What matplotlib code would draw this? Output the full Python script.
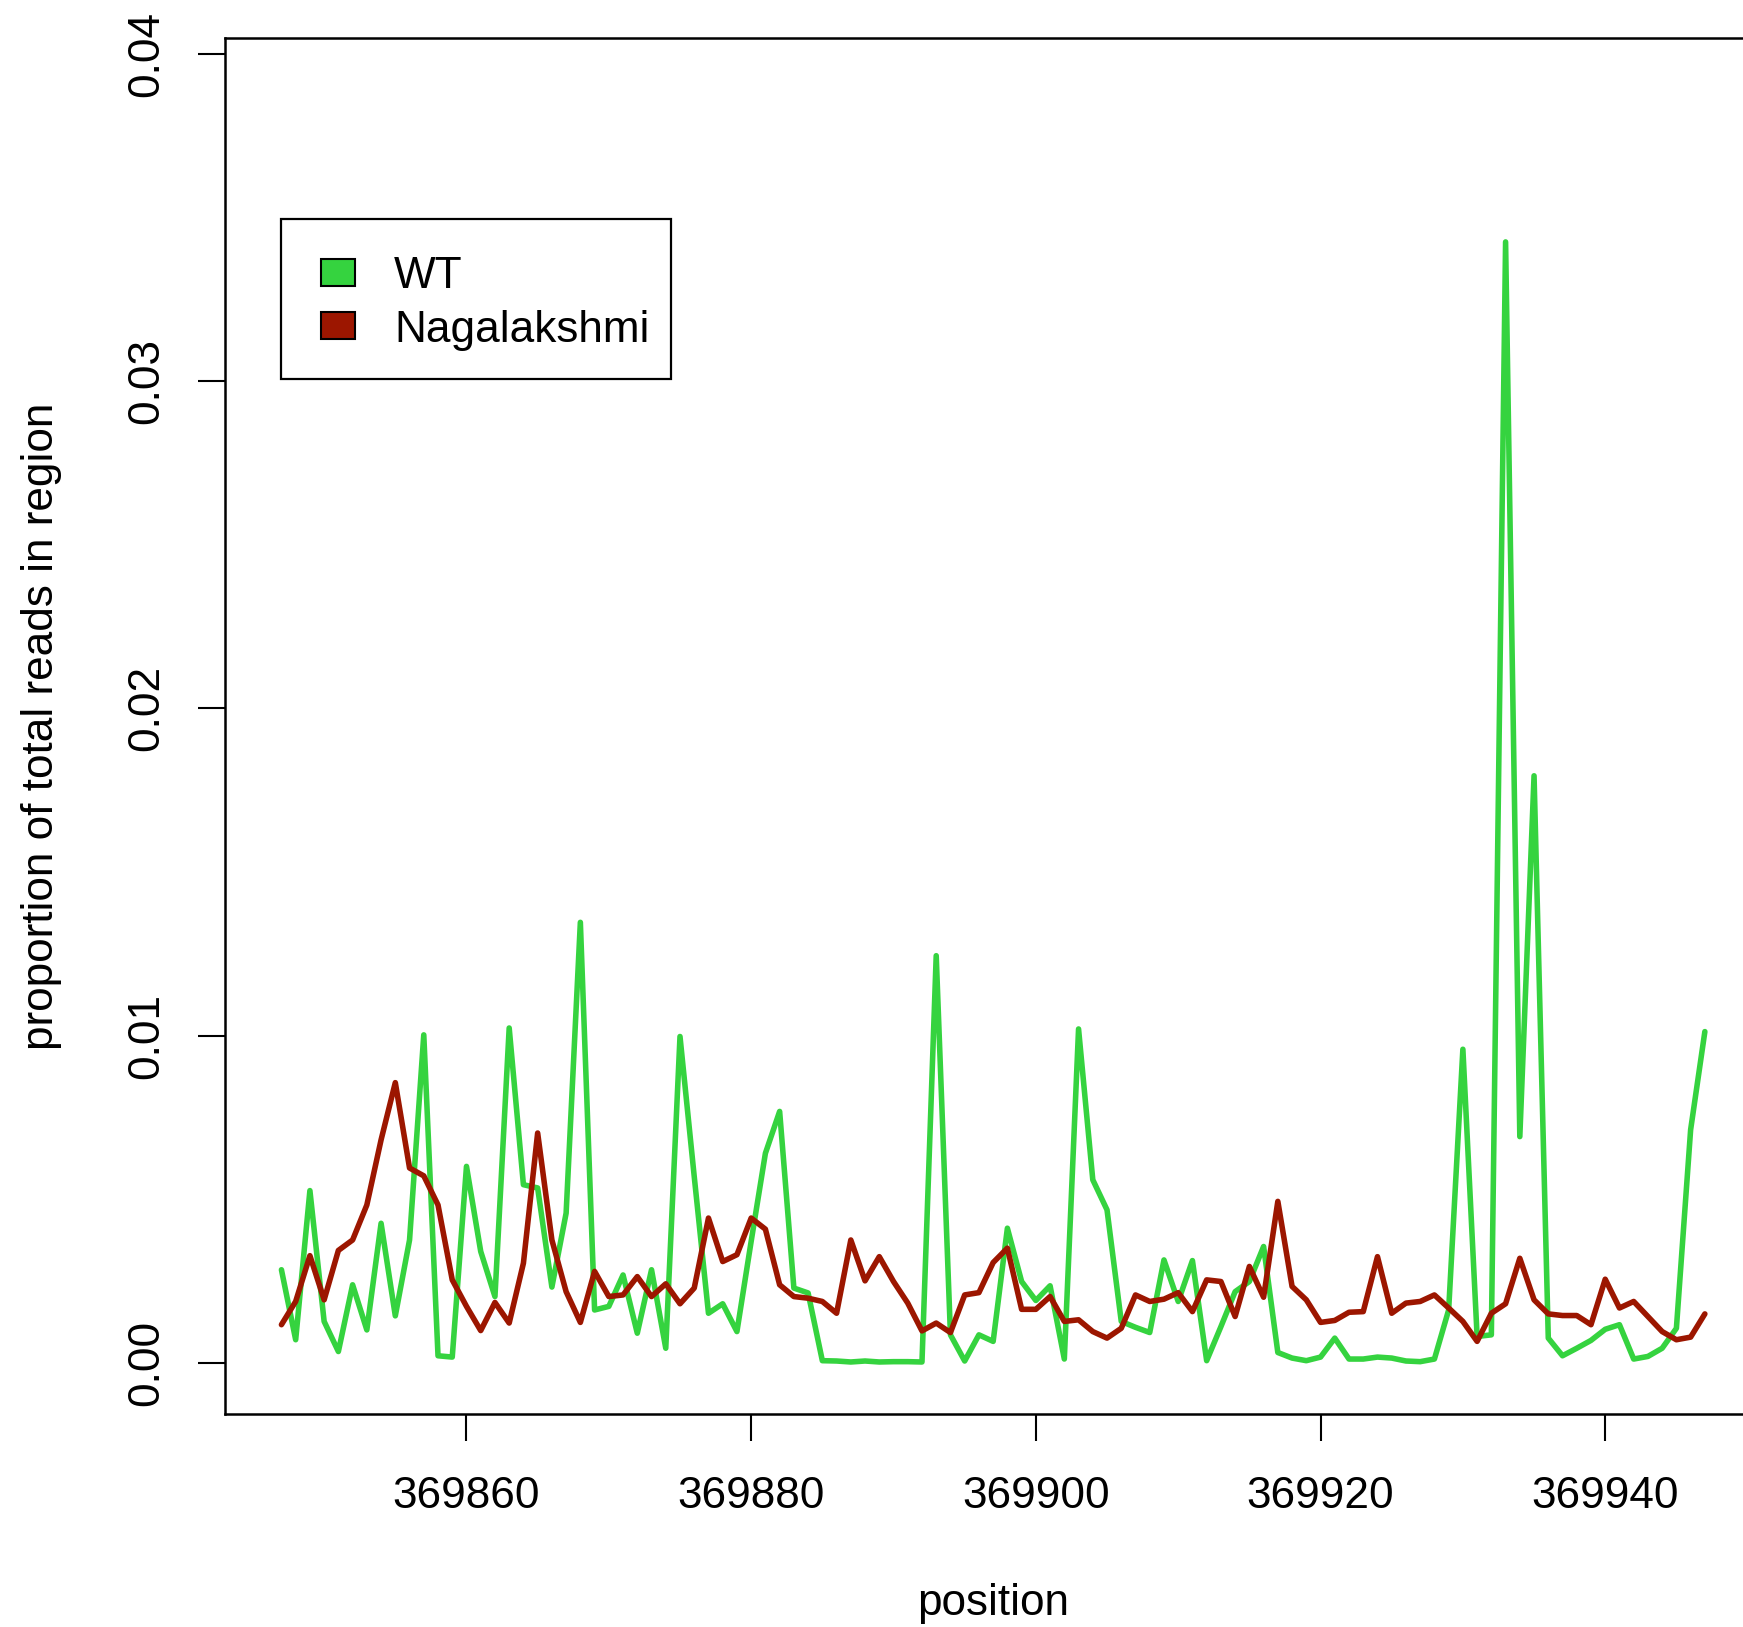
import matplotlib
matplotlib.use("Agg")
import matplotlib.pyplot as plt
from matplotlib.patches import Rectangle

plt.rcParams['font.family'] = ['Liberation Sans', 'DejaVu Sans']

# genomic positions covered by the region
positions = list(range(369847, 369948))

wt = [
    0.00284, 0.00070, 0.00526, 0.00126, 0.00034, 0.00238, 0.00100, 0.00426, 0.00143, 0.00375,
    0.01002, 0.00021, 0.00017, 0.00600, 0.00340, 0.00202, 0.01023, 0.00544, 0.00534, 0.00231,
    0.00457, 0.01346, 0.00161, 0.00172, 0.00268, 0.00090, 0.00284, 0.00044, 0.00997, 0.00569,
    0.00151, 0.00180, 0.00095, 0.00371, 0.00640, 0.00768, 0.00228, 0.00213, 0.00006, 0.00005,
    0.00002, 0.00005, 0.00002, 0.00003, 0.00003, 0.00002, 0.01244, 0.00085, 0.00005, 0.00085,
    0.00065, 0.00411, 0.00248, 0.00190, 0.00235, 0.00011, 0.01020, 0.00559, 0.00467, 0.00126,
    0.00108, 0.00092, 0.00314, 0.00187, 0.00312, 0.00006, 0.00110, 0.00217, 0.00248, 0.00355,
    0.00031, 0.00014, 0.00006, 0.00017, 0.00075, 0.00011, 0.00011, 0.00017, 0.00014, 0.00005,
    0.00003, 0.00011, 0.00161, 0.00958, 0.00080, 0.00085, 0.03426, 0.00691, 0.01794, 0.00075,
    0.00021, 0.00044, 0.00068, 0.00102, 0.00116, 0.00011, 0.00019, 0.00044, 0.00105, 0.00712,
    0.01012,
]

nagalakshmi = [
    0.00116, 0.00187, 0.00327, 0.00192, 0.00343, 0.00375, 0.00482, 0.00681, 0.00856, 0.00595,
    0.00571, 0.00482, 0.00253, 0.00172, 0.00098, 0.00184, 0.00121, 0.00304, 0.00702, 0.00375,
    0.00217, 0.00123, 0.00279, 0.00202, 0.00207, 0.00263, 0.00202, 0.00241, 0.00180, 0.00228,
    0.00442, 0.00309, 0.00330, 0.00442, 0.00408, 0.00238, 0.00202, 0.00197, 0.00187, 0.00151,
    0.00375, 0.00250, 0.00324, 0.00248, 0.00182, 0.00097, 0.00121, 0.00092, 0.00207, 0.00214,
    0.00306, 0.00350, 0.00163, 0.00163, 0.00202, 0.00126, 0.00131, 0.00095, 0.00075, 0.00105,
    0.00207, 0.00187, 0.00194, 0.00214, 0.00156, 0.00253, 0.00248, 0.00141, 0.00294, 0.00200,
    0.00493, 0.00233, 0.00192, 0.00123, 0.00129, 0.00154, 0.00156, 0.00324, 0.00151, 0.00182,
    0.00187, 0.00207, 0.00167, 0.00126, 0.00065, 0.00151, 0.00180, 0.00319, 0.00192, 0.00149,
    0.00144, 0.00144, 0.00116, 0.00255, 0.00167, 0.00187, 0.00141, 0.00095, 0.00070, 0.00078,
    0.00149,
]

series_names = ["WT", "Nagalakshmi"]
series_colors = ["#35D33F", "#9C1600"]

x_ticks = [369860, 369880, 369900, 369920, 369940]
y_ticks = [0.00, 0.01, 0.02, 0.03, 0.04]
y_tick_labels = ["0.00", "0.01", "0.02", "0.03", "0.04"]

W, H = 1743, 1627
FS = 31.8
fig = plt.figure(figsize=(W / 100, H / 100), dpi=100)
ax = fig.add_axes([224.5 / W, 1 - 1414 / H, 1537.3 / W, 1376.2 / H])

line_kw = dict(lw=4.0, solid_joinstyle='round', solid_capstyle='round')
ax.plot(positions, wt, color=series_colors[0], zorder=2, **line_kw)
ax.plot(positions, nagalakshmi, color=series_colors[1], zorder=3, **line_kw)

ax.set_xlim(369843, 369951)
ax.set_ylim(-0.00157, 0.0405)

ax.set_xticks(x_ticks)
ax.set_xticklabels([str(t) for t in x_ticks])
ax.set_yticks(y_ticks)
ax.set_yticklabels(y_tick_labels, rotation=90, va='center')

for s in ax.spines.values():
    s.set_linewidth(1.8)
    s.set_color('black')

ax.tick_params(axis='both', direction='out', length=19.4, width=1.5, labelsize=FS, color='black')
ax.tick_params(axis='x', pad=25)
ax.tick_params(axis='y', pad=21.5)

ax.set_xlabel("position", fontsize=FS, va='center')
ax.xaxis.set_label_coords(0.5, (1414 - 1603) / 1376.2)
ax.set_ylabel("proportion of total reads in region", fontsize=FS, va='center')
ax.yaxis.set_label_coords((42 - 224.5) / 1537.3, 0.5)


# legend box in the upper-left corner, laid out in figure pixels
def fx(px):
    return px / W


def fy(py):
    return 1 - py / H


fig.patches.append(Rectangle((fx(281.2), fy(379)), fx(671.4) - fx(281.2), fy(219) - fy(379),
                             transform=fig.transFigure, facecolor='white',
                             edgecolor='black', linewidth=1.6, zorder=5))
row_centers = [272.5, 325.8]
for name, color, yc in zip(series_names, series_colors, row_centers):
    fig.patches.append(Rectangle((fx(321.3), fy(yc + 13.5)), fx(354.6) - fx(321.3), 27 / H,
                                 transform=fig.transFigure, facecolor=color,
                                 edgecolor='black', linewidth=1.5, zorder=6))
    fig.text(fx(394), fy(yc + 15.8), name, fontsize=FS, ha='left', va='baseline', zorder=7)

fig.savefig("out.png", dpi=100, facecolor='white')
